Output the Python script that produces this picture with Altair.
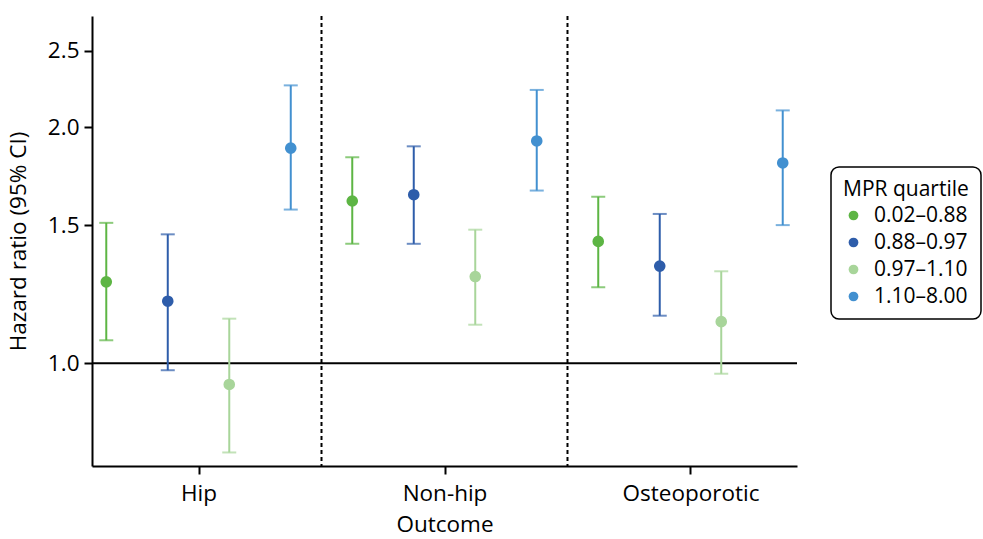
import altair as alt
import pandas as pd

# Hazard ratios (95% CI) by outcome and MPR quartile
outcomes = ["Hip", "Non-hip", "Osteoporotic"]
quartiles = ["0.02–0.88", "0.88–0.97", "0.97–1.10", "1.10–8.00"]
colors = ["#5db544", "#2e5daa", "#a8d59a", "#4290d0"]

hr = [
    [1.27, 1.20, 0.94, 1.88],
    [1.61, 1.64, 1.29, 1.92],
    [1.43, 1.33, 1.13, 1.80],
]
ci_low = [
    [1.07, 0.98, 0.77, 1.57],
    [1.42, 1.42, 1.12, 1.66],
    [1.25, 1.15, 0.97, 1.50],
]
ci_high = [
    [1.51, 1.46, 1.14, 2.26],
    [1.83, 1.89, 1.48, 2.23],
    [1.63, 1.55, 1.31, 2.10],
]

rows = []
for gi, outcome in enumerate(outcomes):
    for qi, q in enumerate(quartiles):
        rows.append({
            "outcome": outcome,
            "quartile": q,
            "pos": gi + (qi - 1.5) * 0.25,
            "hr": hr[gi][qi],
            "lo": ci_low[gi][qi],
            "hi": ci_high[gi][qi],
        })
df = pd.DataFrame(rows)

FONT = "Open Sans"
FS = 22.5
LEG_FS = 21

label_expr = "datum.value == 0 ? 'Hip' : datum.value == 1 ? 'Non-hip' : 'Osteoporotic'"

x_enc = alt.X(
    "pos:Q",
    scale=alt.Scale(domain=[-0.433, 2.433], nice=False, zero=False),
    axis=alt.Axis(
        values=[0, 1, 2], labelExpr=label_expr, title="Outcome",
        grid=False, domainColor="black", domainWidth=2, tickColor="black",
        tickWidth=2, tickSize=8, labelPadding=8, titlePadding=9,
        labelFont=FONT, labelFontSize=FS, titleFont=FONT, titleFontSize=FS,
        titleFontWeight="normal", labelColor="black", titleColor="black",
    ),
)
y_scale = alt.Scale(type="log", domain=[0.74, 2.77], nice=False, zero=False)
y_enc = alt.Y(
    "hr:Q", scale=y_scale,
    axis=alt.Axis(
        values=[1.0, 1.5, 2.0, 2.5], format=".1f", title="Hazard ratio (95% CI)",
        grid=False, domainColor="black", domainWidth=2, tickColor="black",
        tickWidth=2, tickSize=8, labelPadding=5, titlePadding=17,
        labelFont=FONT, labelFontSize=FS, titleFont=FONT, titleFontSize=FS,
        titleFontWeight="normal", labelColor="black", titleColor="black",
    ),
)
color_enc = alt.Color(
    "quartile:N",
    scale=alt.Scale(domain=quartiles, range=colors),
    legend=alt.Legend(
        title="MPR quartile", orient="none", legendX=739, legendY=151,
        strokeColor="black", cornerRadius=8, padding=12,
        symbolType="circle", symbolSize=95, symbolStrokeWidth=0,
        titleFont=FONT, titleFontSize=LEG_FS, titleFontWeight="normal",
        titleColor="black", titlePadding=5,
        labelFont=FONT, labelFontSize=LEG_FS, labelColor="black",
        rowPadding=5, labelOffset=10,
    ),
)

base = alt.Chart(df)

ref_line = alt.Chart(pd.DataFrame({"v": [1.0]})).mark_rule(
    color="black", strokeWidth=2
).encode(y=alt.Y("v:Q", scale=y_scale))

dividers = alt.Chart(pd.DataFrame({"d": [0.5, 1.5]})).mark_rule(
    color="black", strokeWidth=2, strokeDash=[4, 3]
).encode(x=alt.X("d:Q"))

whiskers = base.mark_rule(strokeWidth=2).encode(
    x=x_enc, y=alt.Y("lo:Q", scale=y_scale), y2="hi:Q", color=color_enc
)
cap_low = base.mark_tick(orient="horizontal", size=14, thickness=2).encode(
    x="pos:Q", y=alt.Y("lo:Q", scale=y_scale), color=alt.Color("quartile:N", legend=None)
)
cap_high = base.mark_tick(orient="horizontal", size=14, thickness=2).encode(
    x="pos:Q", y=alt.Y("hi:Q", scale=y_scale), color=alt.Color("quartile:N", legend=None)
)
points = base.mark_circle(size=135, opacity=1).encode(
    x="pos:Q", y=y_enc, color=color_enc
)

chart = alt.layer(
    dividers, ref_line, whiskers, cap_low, cap_high, points
).properties(
    width=705, height=450,
    autosize=alt.AutoSizeParams(type="none"),
    padding={"left": 92, "top": 16, "right": 186, "bottom": 73},
).configure_view(stroke=None).configure_legend(strokeWidth=1.5)

chart.save("out.html", embed_options={"renderer": "svg", "actions": False})
